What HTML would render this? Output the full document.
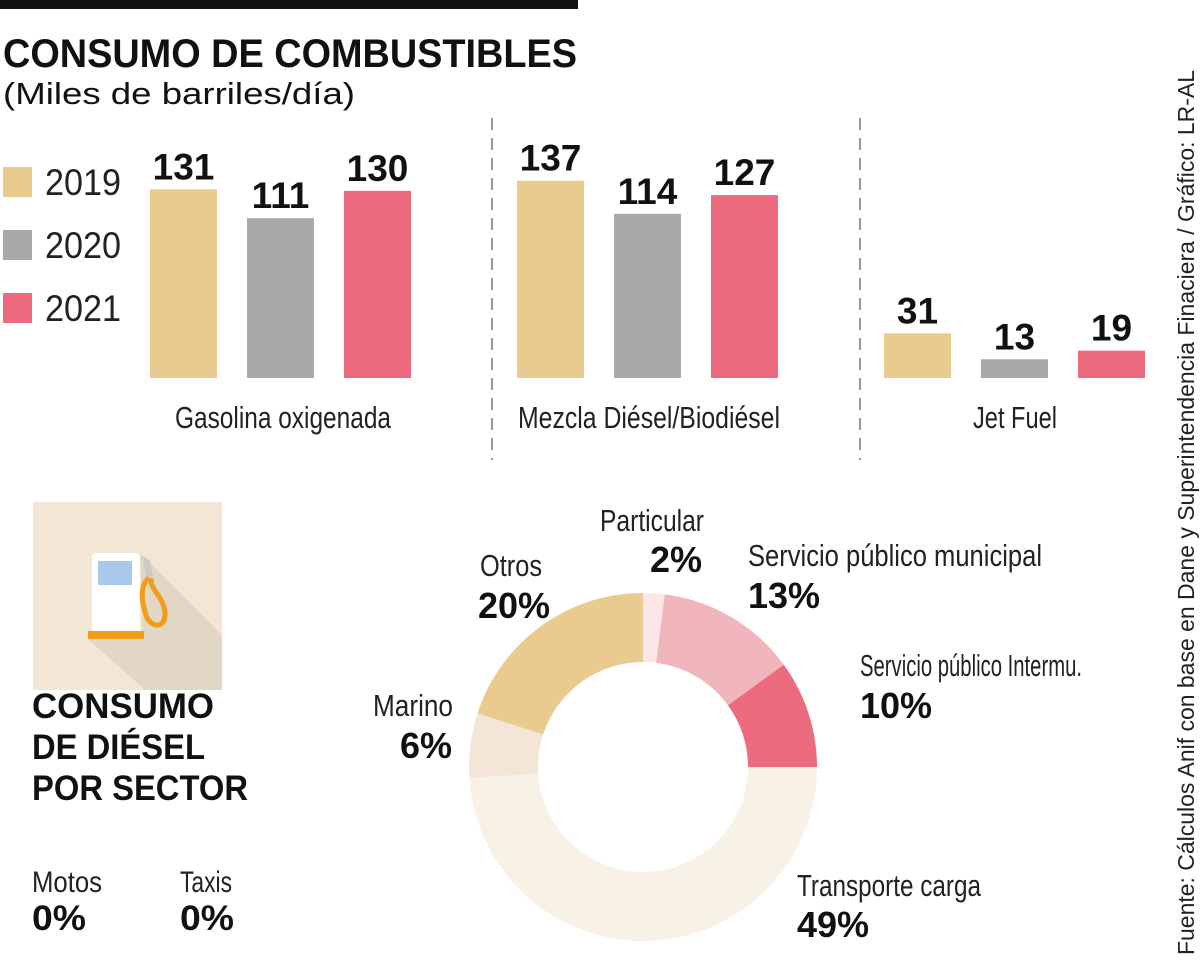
<!DOCTYPE html>
<html><head><meta charset="utf-8"><style>
html,body{margin:0;padding:0;background:#fff;}
svg{display:block;font-family:"Liberation Sans",sans-serif;}
</style></head><body>
<svg id="chart" width="1200" height="965" viewBox="0 0 1200 965" xmlns="http://www.w3.org/2000/svg">
<rect x="0" y="0" width="578" height="9" fill="#111"/>
<text x="3" y="67" font-size="40" font-weight="bold" textLength="574" lengthAdjust="spacingAndGlyphs" fill="#111">CONSUMO DE COMBUSTIBLES</text>
<text x="3" y="104" font-size="31" textLength="352" lengthAdjust="spacingAndGlyphs" fill="#111">(Miles de barriles/día)</text>
<g>
<rect x="3" y="167" width="29" height="30" fill="#e9ca8f"/>
<text x="45" y="195" font-size="37" textLength="76" lengthAdjust="spacingAndGlyphs" fill="#222">2019</text>
<rect x="3" y="230" width="29" height="30" fill="#aaa8ab"/>
<text x="45" y="258" font-size="37" textLength="76" lengthAdjust="spacingAndGlyphs" fill="#222">2020</text>
<rect x="3" y="293" width="29" height="30" fill="#ec6b7e"/>
<text x="45" y="321" font-size="37" textLength="76" lengthAdjust="spacingAndGlyphs" fill="#222">2021</text>
</g>
<line x1="492" y1="118" x2="492" y2="460" stroke="#777" stroke-width="1.5" stroke-dasharray="12,8"/>
<line x1="860" y1="118" x2="860" y2="460" stroke="#777" stroke-width="1.5" stroke-dasharray="12,8"/>
<g id="bars"></g>

<g>
<rect x="33" y="502" width="189" height="188" fill="#f4e6d4"/>
<polygon points="140,553 222,635 222,690 145,690 88,639 143,639" fill="#e2d6c4"/>
<rect x="92" y="553" width="48" height="80" rx="4" fill="#fff"/>
<rect x="98" y="561" width="34" height="24" fill="#a9c8ea"/>
<rect x="88" y="631" width="56" height="8" fill="#f39c1a"/>
<path d="M143 556 L150 561 L153 576 L146 578 Z" fill="#c9c9c9"/>
<path d="M149 578 C140 585,141 600,146 615 C150 628,166 630,165 612 C163 596,150 590,151 578" fill="none" stroke="#f39c1a" stroke-width="5"/>
</g>
<g font-weight="bold" font-size="35" fill="#111">
<text x="32" y="718" textLength="182" lengthAdjust="spacingAndGlyphs">CONSUMO</text>
<text x="32" y="759" textLength="173" lengthAdjust="spacingAndGlyphs">DE DIÉSEL</text>
<text x="32" y="800" textLength="216" lengthAdjust="spacingAndGlyphs">POR SECTOR</text>
</g>
<text x="32" y="892" font-size="30" textLength="70" lengthAdjust="spacingAndGlyphs" fill="#222">Motos</text>
<text x="32" y="930" font-size="35" font-weight="bold" textLength="54" lengthAdjust="spacingAndGlyphs" fill="#111">0%</text>
<text x="180" y="892" font-size="30" textLength="52" lengthAdjust="spacingAndGlyphs" fill="#222">Taxis</text>
<text x="180" y="930" font-size="35" font-weight="bold" textLength="54" lengthAdjust="spacingAndGlyphs" fill="#111">0%</text>

<g id="donut"></g>
<g id="donutLabels"></g>

<text transform="translate(1194,955) rotate(-90)" font-size="23" textLength="885" lengthAdjust="spacingAndGlyphs" fill="#222">Fuente: Cálculos Anif con base en Dane y Superintendencia Finaciera / Gráfico: LR-AL</text>
</svg>
<script>
const categories = ["Gasolina oxigenada", "Mezcla Diésel/Biodiésel", "Jet Fuel"];
const series2019 = [131, 137, 31];
const series2020 = [111, 114, 13];
const series2021 = [130, 127, 19];
const years = ["2019", "2020", "2021"];

const sectorNames = ["Particular", "Servicio público municipal", "Servicio público Intermu.", "Transporte carga", "Marino", "Otros"];
const sectorShares = [2, 13, 10, 49, 6, 20];
const sectorLabels = ["2%", "13%", "10%", "49%", "6%", "20%"];

const NS = "http://www.w3.org/2000/svg";
function mk(tag, attrs, parent) {
  const e = document.createElementNS(NS, tag);
  for (const k in attrs) e.setAttribute(k, attrs[k]);
  parent.appendChild(e);
  return e;
}
const baseY = 378, pxPerUnit = 1.44;
const groupX = [150, 517, 884], barStep = 97, barW = 67;
const colors = ["#e9ca8f", "#aaa8ab", "#ec6b7e"];
const labelCx = [283, 649, 1015];
const labelW = [216, 262, 84];
function yScale(v) { return baseY - v * pxPerUnit; }
function xScale(g, s) { return groupX[g] + s * barStep; }
const barsG = document.getElementById("bars");
const allSeries = [series2019, series2020, series2021];
categories.forEach((cat, g) => {
  allSeries.forEach((ser, s) => {
    const v = ser[g];
    const r = mk("rect", {x: xScale(g, s), y: yScale(v), width: barW, height: baseY - yScale(v), fill: colors[s]}, barsG);
    
    
    const t = mk("text", {x: xScale(g, s) + barW / 2, y: yScale(v) - 10, "text-anchor": "middle", "font-size": "37", "font-weight": "bold", fill: "#111"}, barsG);
    t.textContent = v;
    
    
  });
  const lt = mk("text", {x: labelCx[g] - labelW[g] / 2, y: 428, "font-size": "31", textLength: labelW[g], lengthAdjust: "spacingAndGlyphs", fill: "#222"}, barsG);
  lt.textContent = cat;
  
  
});
const cx = 643, cy = 767, R = 174, r0 = 105;
const pieColors = ["#fce6e8", "#f0b6bc", "#ec6b7e", "#f8f1e6", "#f3e6d6", "#e9ca8f"];
const total = sectorShares.reduce((a, b) => a + b, 0);
function ang(v) { return v / total * 2 * Math.PI - Math.PI / 2; }
function pt(a, rad) { return [cx + rad * Math.cos(a), cy + rad * Math.sin(a)]; }
const dg = document.getElementById("donut");
let acc = 0;
sectorShares.forEach((v, i) => {
  const a0 = ang(acc), a1 = ang(acc + v);
  acc += v;
  const large = (a1 - a0) > Math.PI ? 1 : 0;
  const p0 = pt(a0, R), p1 = pt(a1, R), q1 = pt(a1, r0), q0 = pt(a0, r0);
  const d = `M${p0[0]},${p0[1]} A${R},${R} 0 ${large} 1 ${p1[0]},${p1[1]} L${q1[0]},${q1[1]} A${r0},${r0} 0 ${large} 0 ${q0[0]},${q0[1]} Z`;
  const p = mk("path", {d: d, fill: pieColors[i]}, dg);
  
  
});
const labPos = [[600, 531, 104, 650, 572], [748, 566, 294, 748, 608], [860, 676, 222, 860, 718], [797, 896, 184, 797, 937], [373, 716, 80, 400, 758], [480, 576, 30 + 32, 478, 618]];
const dl = document.getElementById("donutLabels");
sectorNames.forEach((n, i) => {
  const p = labPos[i];
  const t = mk("text", {x: p[0], y: p[1], "font-size": "31", textLength: p[2], lengthAdjust: "spacingAndGlyphs", fill: "#222"}, dl);
  t.textContent = n;
  
  
  const v = mk("text", {x: p[3], y: p[4], "font-size": "36", "font-weight": "bold", fill: "#111"}, dl);
  v.textContent = sectorLabels[i];
  
  
});
</script>
</body></html>
